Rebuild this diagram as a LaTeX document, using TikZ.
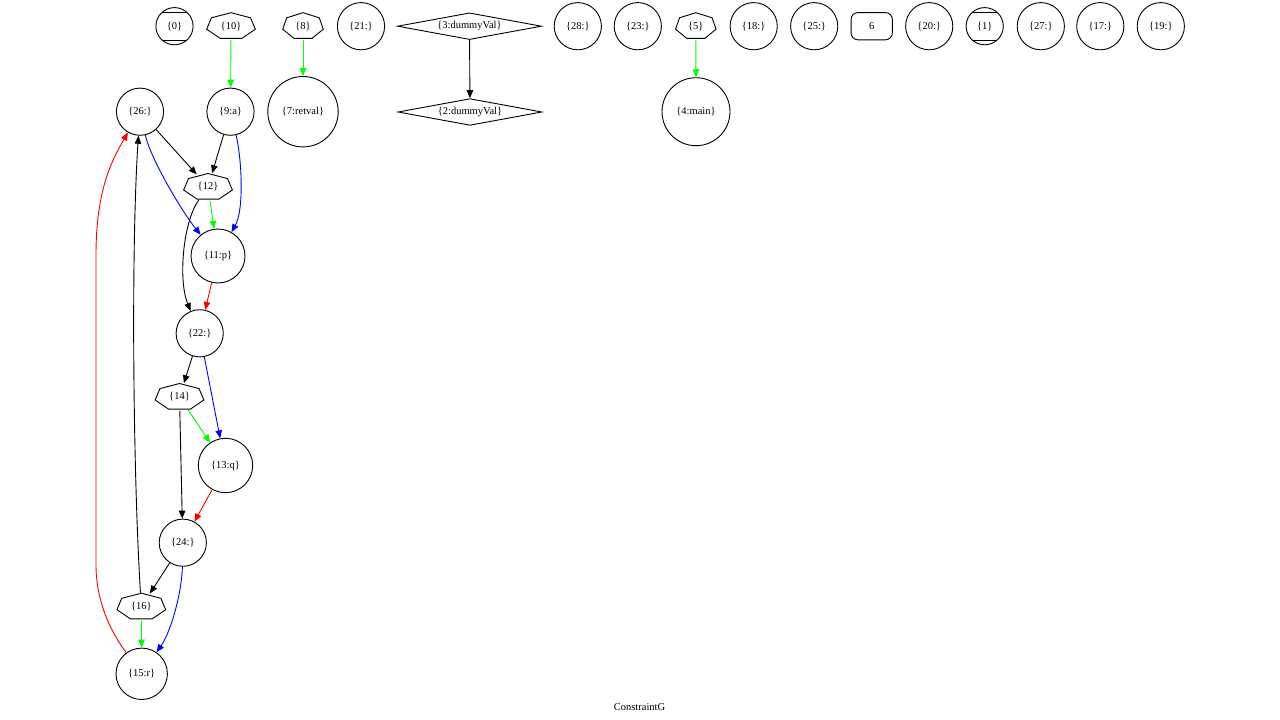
\documentclass[tikz,border=0pt]{standalone}
\usepackage{fontspec}
\setmainfont{Liberation Serif}
\usetikzlibrary{arrows.meta,shapes.geometric}

\begin{document}
\begin{tikzpicture}[x=1pt,y=-1pt,line width=0.9pt,
        every node/.style={font=\fontsize{10.5}{12}\selectfont, inner sep=0pt},
        vcirc/.style={draw, circle, minimum size=47.2pt},
        mcirc/.style={draw, circle, minimum size=37.2pt},
        sept/.style={ellipse, minimum width=50pt, minimum height=27pt},
        septs/.style={ellipse, minimum width=41.6pt, minimum height=27pt},
        dia/.style={draw, diamond, aspect=5.4, minimum width=144pt, minimum height=26.7pt},
        rbox/.style={draw, rectangle, rounded corners=7pt, minimum width=41.3pt, minimum height=27.3pt},
        arr/.style={-{Triangle[length=8pt,width=6.5pt]}},
        blackarr/.style={arr, draw=black},
        greenarr/.style={arr, draw=green},
        bluearr/.style={arr, draw=blue},
        redarr/.style={arr, draw=red}]
    \useasboundingbox[fill=white] (0,0) rectangle (1280,720);
    % top row
    \node [mcirc] (n0) at (174.5,26.2) {\{0\}};
    \node [sept] (n10) at (231,26.2) {\{10\}};
    \node [septs] (n8) at (303,26.2) {\{8\}};
    \node [vcirc] (n21) at (361,26.2) {\{21:\}};
    \node [dia] (n3) at (469.5,26.2) {\{3:dummyVal\}};
    \node [vcirc] (n28) at (577.8,26.2) {\{28:\}};
    \node [vcirc] (n23) at (637.8,26.2) {\{23:\}};
    \node [septs] (n5) at (695.8,26.2) {\{5\}};
    \node [vcirc] (n18) at (753.7,26.2) {\{18:\}};
    \node [vcirc] (n25) at (814.2,26.2) {\{25:\}};
    \node [rbox] (n6) at (871.7,26.2) {6};
    \node [vcirc] (n20) at (929.2,26.2) {\{20:\}};
    \node [mcirc] (n1) at (984.7,26.2) {\{1\}};
    \node [vcirc] (n27) at (1040.8,26.2) {\{27:\}};
    \node [vcirc] (n17) at (1100.3,26.2) {\{17:\}};
    \node [vcirc] (n19) at (1160.8,26.2) {\{19:\}};
    % second row
    \node [vcirc] (n26) at (140,111.7) {\{26:\}};
    \node [vcirc] (n9) at (230.5,111.7) {\{9:a\}};
    \node [vcirc, minimum size=70.4pt] (n7) at (303,111.7) {\{7:retval\}};
    \node [dia] (n2) at (470,112) {\{2:dummyVal\}};
    \node [vcirc, minimum size=68pt] (n4) at (696,111.7) {\{4:main\}};
    % chain
    \node [sept] (n12) at (208,187) {\{12\}};
    \node [vcirc, minimum size=54pt] (n11) at (218,256) {\{11:p\}};
    \node [vcirc] (n22) at (199.7,333.3) {\{22:\}};
    \node [sept] (n14) at (179.5,397) {\{14\}};
    \node [vcirc, minimum size=54.4pt] (n13) at (225.5,465.5) {\{13:q\}};
    \node [vcirc] (n24) at (182.8,542.7) {\{24:\}};
    \node [sept] (n16) at (141.3,606.7) {\{16\}};
    \node [vcirc, minimum size=51.4pt] (n15) at (141.7,673.8) {\{15:r\}};
    \node (cap) at (639.5,707.5) {ConstraintG};
    % septagon outlines
    \foreach \n/\r in {n10/25pt,n8/20.8pt,n5/20.8pt,n12/25pt,n14/25pt,n16/25pt}
        \draw [shift={(\n)}] (90:{\r} and 13.5pt)
            \foreach \k in {1,...,6} { -- ({90-\k*360/7}:{\r} and 13.5pt) } -- cycle;
    % Mcircle bars
    \foreach \n in {n0,n1} {
        \draw (\n) ++(-12.5,-13.8) -- ++(25,0);
        \draw (\n) ++(-12.5,13.8) -- ++(25,0);
    }
    % edges
    \draw [greenarr] (n10) -- (n9);
    \draw [greenarr] (n8) -- (n7);
    \draw [blackarr] (n3) -- (n2);
    \draw [greenarr] (n5) -- (n4);
    \draw [blackarr] (n26) -- (n12);
    \draw [bluearr] (n26) .. controls (151,160) and (183,213) .. (n11);
    \draw [blackarr] (n9) -- (n12);
    \draw [bluearr] (n9) .. controls (242,160) and (244,210) .. (n11);
    \draw [greenarr] (n12) -- (n11);
    \draw [blackarr] (n12) .. controls (183,222) and (178,280) .. (n22);
    \draw [redarr] (n11) -- (n22);
    \draw [blackarr] (n22) -- (n14);
    \draw [bluearr] (n22) -- (n13);
    \draw [greenarr] (n14) -- (n13);
    \draw [blackarr] (n14) -- (n24);
    \draw [redarr] (n13) -- (n24);
    \draw [blackarr] (n24) -- (n16);
    \draw [bluearr] (n24) .. controls (182,590) and (172,630) .. (n15);
    \draw [greenarr] (n16) -- (n15);
    \draw [blackarr] (n16) .. controls (133,470) and (131,250) .. (n26);
    \draw [redarr] (n15) .. controls (108,628) and (96,598) .. (96,565)
        -- (96,255) .. controls (96,190) and (112,160) .. (n26);
\end{tikzpicture}
\end{document}
